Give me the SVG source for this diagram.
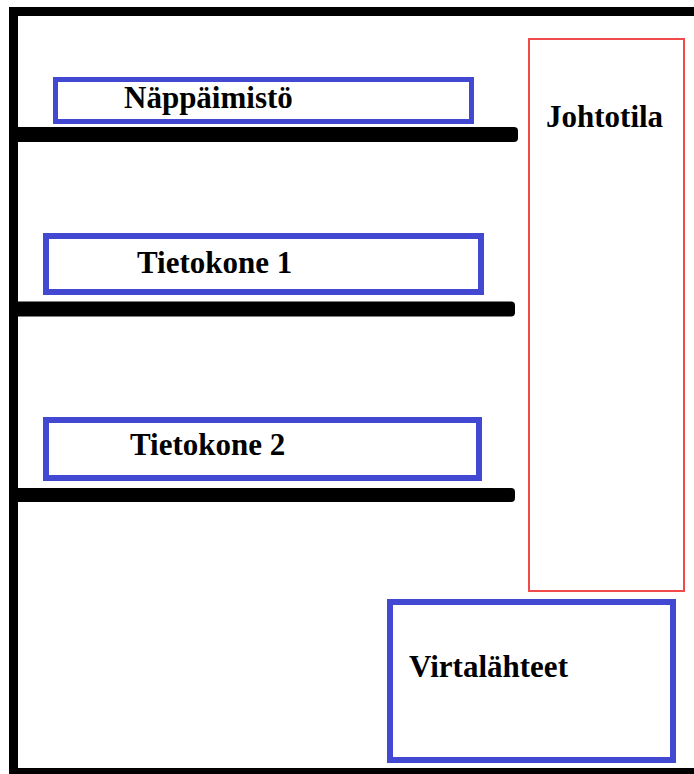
<svg xmlns="http://www.w3.org/2000/svg" width="694" height="774" viewBox="0 0 694 774">
<style>
.box{fill:none;stroke:#4348d2;stroke-width:6}
.lbl{font-family:"Liberation Serif","Times New Roman",serif;font-weight:bold;font-size:31px;fill:#000}
.bar{fill:#000}
</style>
<rect width="694" height="774" fill="#fff"/>
<g id="frame">
<path d="M694 11.5 H13.5 V772.5 H694" fill="none" stroke="#000" stroke-width="9"/>
</g>
<g id="connectors">
<rect class="bar" x="12" y="127" width="506" height="15" rx="4"/>
<rect class="bar" x="12" y="301.5" width="503" height="15" rx="4"/>
<rect class="bar" x="12" y="488" width="503" height="14" rx="4"/>
</g>
<g id="johtotila">
<rect x="529" y="39" width="155" height="552" fill="none" stroke="#f04a4a" stroke-width="2"/>
<text class="lbl" x="546" y="127">Johtotila</text>
</g>
<g id="nappaimisto">
<rect class="box" x="55.5" y="79.5" width="416" height="42" style="stroke-width:5"/>
<text class="lbl" x="124" y="108">Näppäimistö</text>
</g>
<g id="tietokone1">
<rect class="box" x="46" y="236" width="435" height="56"/>
<text class="lbl" x="137" y="273">Tietokone 1</text>
</g>
<g id="tietokone2">
<rect class="box" x="46" y="420" width="433" height="58"/>
<text class="lbl" x="130" y="455">Tietokone 2</text>
</g>
<g id="virtalahteet">
<rect class="box" x="390" y="602" width="283" height="158"/>
<text class="lbl" x="409" y="677">Virtalähteet</text>
</g>
</svg>
